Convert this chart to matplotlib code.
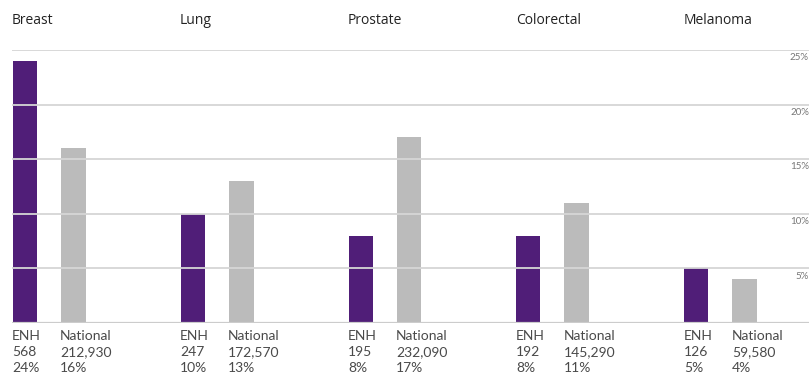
import matplotlib
matplotlib.use('Agg')
import matplotlib.pyplot as plt
import numpy as np

cancers = ['Breast', 'Lung', 'Prostate', 'Colorectal', 'Melanoma']
enh_pct = [24, 10, 8, 8, 5]
nat_pct = [16, 13, 17, 11, 4]
enh_count = ['568', '247', '195', '192', '126']
nat_count = ['212,930', '172,570', '232,090', '145,290', '59,580']
yticks = [5, 10, 15, 20, 25]

purple = '#501e78'
grey = '#bbbbbb'
txt = '#4a4a4a'
light = dict(family=['Lato', 'DejaVu Sans'])

fig = plt.figure(figsize=(8.09, 3.75), dpi=100)
W, H = 809, 375
ax = fig.add_axes([12 / W, (H - 323) / H, 797 / W, 273 / H])

x = np.arange(len(cancers))
off = 48 / 168
bw = 24 / 168
ax.bar(x, enh_pct, width=bw, align='edge', color=purple, zorder=2)
ax.bar(x + off, nat_pct, width=bw + 1 / 168, align='edge', color=grey, zorder=2)

# gridlines on top, as in the reference
for t in yticks:
    ax.axhline(t, color='#d6d6d6', lw=1.3, zorder=3)
ax.axhline(0, color='#cccccc', lw=1.6, zorder=3)

ax.set_xlim(-1 / 168, 797 / 168)
ax.set_ylim(0, 25)
ax.axis('off')

for t in yticks:
    ax.text(1.0, t - 0.3, f'{t}%', transform=ax.get_yaxis_transform(),
            ha='right', va='top', fontsize=7, color='#777777', **light)

for i, name in enumerate(cancers):
    xl = (12 + i * 168) / W
    fig.text(xl, 1 - 20 / H, name, ha='left', va='center', fontsize=10,
             color='#222222', family=['Open Sans', 'DejaVu Sans'])
    xn = (60 + i * 168) / W
    for j, (a, b) in enumerate([('ENH', 'National'),
                                (enh_count[i], nat_count[i]),
                                (f'{enh_pct[i]}%', f'{nat_pct[i]}%')]):
        yy = 1 - (336 + j * 16) / H
        fig.text(xl, yy, a, ha='left', va='center', fontsize=10, color=txt, **light)
        fig.text(xn, yy, b, ha='left', va='center', fontsize=10, color=txt, **light)

fig.savefig('out.png', dpi=100)
